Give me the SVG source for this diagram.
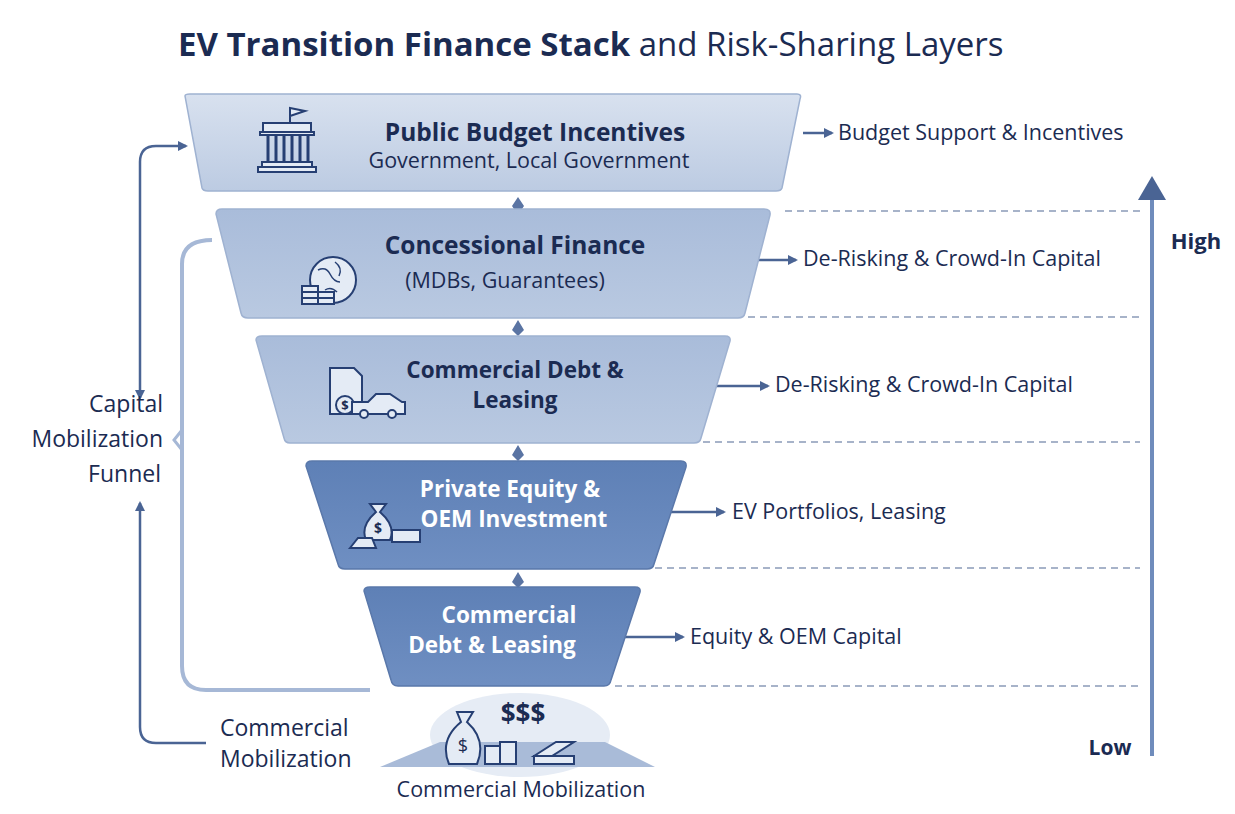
<svg xmlns="http://www.w3.org/2000/svg" width="1235" height="814" viewBox="0 0 1235 814">
<defs>
<style>
.t{font-family:"Open Sans","Liberation Sans",sans-serif;fill:#1b2b52}
.h{font-weight:700;font-size:24.5px;text-anchor:middle}
.h2{font-weight:700;font-size:22.5px;text-anchor:middle}
.s{font-size:21.5px;text-anchor:middle}
.w{fill:#fff;font-weight:700;font-size:22.5px;text-anchor:middle}
.r{font-size:21.5px}
.l{font-size:23px}
.ln{stroke:#4a6494;stroke-width:2.5;fill:none}
.dash{stroke:#8a9bb8;stroke-width:1.5;stroke-dasharray:7 5}
.ic{stroke:#263f73;stroke-width:2;fill:#e4ebf5}
</style>
<marker id="a" viewBox="0 0 10 10" refX="8" refY="5" markerWidth="4" markerHeight="4" orient="auto-start-reverse"><path d="M0,0L10,5L0,10z" fill="#4a6494"/></marker>
<linearGradient id="g1" x1="0" y1="0" x2="0" y2="1"><stop offset="0" stop-color="#d8e1ef"/><stop offset="1" stop-color="#bccbe2"/></linearGradient>
<linearGradient id="g2" x1="0" y1="0" x2="0" y2="1"><stop offset="0" stop-color="#a9bcda"/><stop offset="1" stop-color="#b9c9e1"/></linearGradient>
<linearGradient id="g4" x1="0" y1="0" x2="0" y2="1"><stop offset="0" stop-color="#5e80b6"/><stop offset="1" stop-color="#6f8fc2"/></linearGradient>
</defs>
<rect width="1235" height="814" fill="#fff"/>
<text x="178" y="56" class="t" font-size="33"><tspan font-weight="700">EV Transition Finance Stack</tspan> and Risk-Sharing Layers</text>

<g id="connectors">
<line class="dash" x1="785" y1="211" x2="1140" y2="211"/>
<line class="dash" x1="748" y1="317" x2="1140" y2="317"/>
<line class="dash" x1="703" y1="442" x2="1140" y2="442"/>
<line class="dash" x1="655" y1="568" x2="1140" y2="568"/>
<line class="dash" x1="615" y1="686" x2="1140" y2="686"/>
<line class="ln" x1="803" y1="133" x2="832" y2="133" marker-end="url(#a)"/>
<line class="ln" x1="742" y1="260" x2="796" y2="260" marker-end="url(#a)"/>
<line class="ln" x1="692" y1="386" x2="768" y2="386" marker-end="url(#a)"/>
<line class="ln" x1="652" y1="512" x2="724" y2="512" marker-end="url(#a)"/>
<line class="ln" x1="617" y1="637" x2="683" y2="637" marker-end="url(#a)"/>
<g fill="#5a74a3">
<path d="M512,206l6,-9l6,9z M512,206l6,9l6,-9z"/>
<path d="M512,330l6,-10l6,10z M512,330l6,6l6,-6z"/>
<path d="M512,455l6,-10l6,10z M512,455l6,6l6,-6z"/>
<path d="M512,582l6,-10l6,10z M512,582l6,6l6,-6z"/>
</g>
<line x1="1152" y1="756" x2="1152" y2="195" stroke="#6f8cbc" stroke-width="4"/>
<path d="M1138,200L1152,176L1166,200z" fill="#4a6494"/>
<path class="ln" d="M140,398V162q0,-16 16,-16H186" marker-start="url(#a)" marker-end="url(#a)"/>
<path class="ln" d="M140,503V727q0,16 16,16H206" marker-start="url(#a)"/>
<path d="M212,240q-30,0 -30,24V666q0,24 24,24H370" stroke="#a6b8d6" stroke-width="4" fill="none"/>
<path d="M182,430l-8,10l8,10" stroke="#a6b8d6" stroke-width="3" fill="none"/>
</g>

<g id="public">
<path d="M185,96Q185,94 190,94H797Q802,94 800,99L782,188Q781,191 776,191H208Q203,191 202,188Z" fill="url(#g1)" stroke="#9fb2d1" stroke-width="1.5"/>
<g class="ic"><rect x="263" y="123" width="48" height="9"/><path d="M260,132h54v3h-54z"/><path d="M268,136v26M276,136v26M284,136v26M292,136v26M300,136v26M308,136v26" stroke-width="3"/><rect x="262" y="162" width="50" height="5"/><rect x="258" y="167" width="58" height="5"/><path d="M290,123V108l15,3l-15,5" fill="#e4ebf5"/></g>
<text x="535" y="141" class="t h">Public Budget Incentives</text>
<text x="529" y="168" class="t s">Government, Local Government</text>
</g>

<g id="concessional">
<path d="M216,214Q216,209 222,209H764Q771,209 770,215L745,313Q744,318 738,318H248Q242,318 241,313Z" fill="url(#g2)" stroke="#9fb2d1" stroke-width="1.5"/>
<circle cx="333" cy="280" r="23" class="ic"/>
<path d="M318,270q8,-4 12,4t10,8M335,262q8,6 4,14M325,290q6,-4 12,2" stroke="#263f73" stroke-width="1.5" fill="none"/>
<g class="ic"><rect x="302" y="298" width="16" height="6"/><rect x="302" y="292" width="16" height="6"/><rect x="302" y="286" width="16" height="6"/><rect x="318" y="298" width="16" height="6"/><rect x="318" y="292" width="16" height="6"/></g>
<text x="515" y="254" class="t h">Concessional Finance</text>
<text x="505" y="288" class="t s">(MDBs, Guarantees)</text>
</g>

<g id="commercial-debt">
<path d="M256,340Q256,336 262,336H725Q731,336 730,341L701,438Q700,443 694,443H290Q285,443 284,438Z" fill="url(#g2)" stroke="#9fb2d1" stroke-width="1.5"/>
<g class="ic"><path d="M330,368h24l8,8v38h-32z"/><circle cx="345" cy="405" r="9"/><path d="M352,402h16l8,-8h14l12,8h3v12h-53z"/><circle cx="364" cy="414" r="4"/><circle cx="392" cy="414" r="4"/></g>
<text x="345" y="410" class="t" font-size="13" font-weight="700" text-anchor="middle">$</text>
<text x="515" y="378" class="t h2">Commercial Debt &amp;</text>
<text x="515" y="408" class="t h2">Leasing</text>
</g>

<g id="private-equity">
<path d="M306,466Q306,461 312,461H681Q687,461 686,467L654,564Q653,569 647,569H345Q339,569 338,564Z" fill="url(#g4)" stroke="#5a78aa" stroke-width="1.5"/>
<g class="ic"><path d="M376,512q-16,14 -10,28h24q6,-14 -10,-28l6,-8h-16z"/><rect x="392" y="530" width="28" height="12"/><path d="M350,548l8,-10h14l4,10z"/></g>
<text x="378" y="533" class="t" font-size="14" font-weight="700" text-anchor="middle">$</text>
<text x="510" y="497" class="t w">Private Equity &amp;</text>
<text x="514" y="527" class="t w">OEM Investment</text>
</g>

<g id="commercial">
<path d="M364,591Q364,587 370,587H635Q641,587 640,592L611,680Q610,686 604,686H398Q392,686 391,680Z" fill="url(#g4)" stroke="#5a78aa" stroke-width="1.5"/>
<text x="509" y="623" class="t w">Commercial</text>
<text x="492" y="653" class="t w">Debt &amp; Leasing</text>
</g>

<g id="mobilization">
<ellipse cx="520" cy="735" rx="90" ry="42" fill="#e6ecf5"/>
<path d="M380,767L440,742H605L655,767z" fill="#a9bbd8"/>
<g class="ic"><path d="M461,722q-22,18 -12,42h28q10,-24 -10,-42l6,-10h-16z"/><rect x="485" y="746" width="16" height="18"/><rect x="500" y="742" width="16" height="22"/><path d="M534,756l22,-14h18l-22,14z"/><rect x="534" y="756" width="40" height="8"/></g>
<text x="463" y="752" class="t" font-size="18" text-anchor="middle">$</text>
<text x="523" y="723" class="t" font-size="26" font-weight="700" text-anchor="middle">$$$</text>
<text x="521" y="797" class="t s">Commercial Mobilization</text>
</g>

<g id="labels">
<text x="838" y="140" class="t r">Budget Support &amp; Incentives</text>
<text x="803" y="266" class="t r">De-Risking &amp; Crowd-In Capital</text>
<text x="775" y="392" class="t r">De-Risking &amp; Crowd-In Capital</text>
<text x="732" y="519" class="t r">EV Portfolios, Leasing</text>
<text x="690" y="644" class="t r">Equity &amp; OEM Capital</text>
<text x="1196" y="249" class="t" font-size="22" font-weight="700" text-anchor="middle">High</text>
<text x="1110" y="755" class="t" font-size="21" font-weight="700" text-anchor="middle">Low</text>
<text x="163" y="412" class="t l" text-anchor="end">Capital</text>
<text x="163" y="447" class="t l" text-anchor="end">Mobilization</text>
<text x="161" y="482" class="t l" text-anchor="end">Funnel</text>
<text x="220" y="736" class="t l">Commercial</text>
<text x="220" y="767" class="t l">Mobilization</text>
</g>
</svg>
